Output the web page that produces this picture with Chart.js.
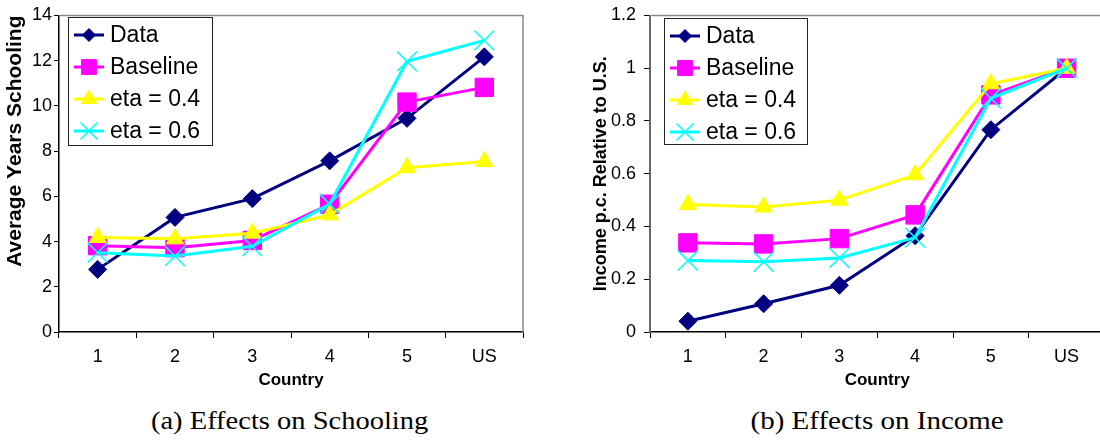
<!DOCTYPE html>
<html><head><meta charset="utf-8">
<script src="https://cdn.jsdelivr.net/npm/chart.js@4.4.0/dist/chart.umd.min.js"></script>
<style>
html,body{margin:0;padding:0;background:#fff;width:1100px;height:441px;overflow:hidden;position:relative}
#c1{position:absolute;left:0;top:0}
#c2{position:absolute;left:560px;top:0}
.cap{position:absolute;top:405px;left:0;font-family:'Liberation Serif','Times New Roman',serif;font-size:25px;line-height:1;white-space:nowrap;transform-origin:center center;color:#000}
</style></head><body>
<canvas id="c1" width="545" height="395"></canvas>
<canvas id="c2" width="560" height="395"></canvas>
<div class="cap" id="capA">(a) Effects on Schooling</div>
<div class="cap" id="capB">(b) Effects on Income</div>
<script>
// ---- data ----
const countries = ['1', '2', '3', '4', '5', 'US'];
const seriesNames = ['Data', 'Baseline', 'eta = 0.4', 'eta = 0.6'];

const schoolData     = [2.77, 5.07, 5.90, 7.57, 9.45, 12.17];
const schoolBaseline = [3.82, 3.73, 4.05, 5.65, 10.17, 10.82];
const schoolEta04    = [4.18, 4.12, 4.37, 5.18, 7.27, 7.54];
const schoolEta06    = [3.51, 3.36, 3.79, 5.66, 11.97, 12.90];

const incomeData     = [0.041, 0.107, 0.177, 0.365, 0.767, 1.0];
const incomeBaseline = [0.338, 0.334, 0.354, 0.444, 0.899, 1.0];
const incomeEta04    = [0.483, 0.474, 0.500, 0.596, 0.941, 1.0];
const incomeEta06    = [0.271, 0.266, 0.281, 0.358, 0.886, 1.0];

const schoolTicks = [0, 2, 4, 6, 8, 10, 12, 14];
const incomeTicks = [0, 0.2, 0.4, 0.6, 0.8, 1, 1.2];

// ---- styles ----
const FONT = "'Liberation Sans', Arial, Helvetica, sans-serif";
const colors = ['#000080', '#FF00FF', '#FFFF00', '#00FFFF'];
const pointStyles = ['rectRot', 'rect', 'triangle', 'crossRot'];
const pointRadii = [9, 13, 10, 14];
const legendRadii = [6.5, 10.5, 9, 12];

function makeDatasets(values) {
  return values.map((vals, i) => ({
    label: seriesNames[i],
    data: vals,
    borderColor: colors[i],
    backgroundColor: colors[i],
    borderWidth: 3,
    pointStyle: pointStyles[i],
    pointRadius: pointRadii[i],
    pointHoverRadius: pointRadii[i],
    pointBorderColor: colors[i],
    pointBackgroundColor: colors[i],
    pointBorderWidth: i === 3 ? 1.5 : 1,
    tension: 0,
    order: 4 - i,
    clip: false
  }));
}

const plotBorder = {
  id: 'plotBorder',
  beforeDatasetsDraw(chart) {
    const ctx = chart.ctx, a = chart.chartArea;
    ctx.save();
    ctx.strokeStyle = '#8a8a8a';
    ctx.lineWidth = 1.5;
    ctx.beginPath();
    ctx.moveTo(a.left, a.top);
    ctx.lineTo(a.right, a.top);
    ctx.lineTo(a.right, a.bottom);
    ctx.stroke();
    ctx.restore();
  }
};

const boxLegend = {
  id: 'boxLegend',
  afterDraw(chart, args, opts) {
    const ctx = chart.ctx, a = chart.chartArea;
    const x = Math.round(a.left + opts.dx), y = opts.y, w = opts.w, h = opts.h;
    ctx.save();
    ctx.fillStyle = '#fff';
    ctx.fillRect(x, y, w, h);
    ctx.strokeStyle = '#222';
    ctx.lineWidth = 1;
    ctx.strokeRect(x + 0.5, y + 0.5, w, h);
    chart.data.datasets.forEach((ds, i) => {
      const cy = y + 18 + i * 32;
      ctx.strokeStyle = ds.borderColor;
      ctx.lineWidth = 3;
      ctx.beginPath();
      ctx.moveTo(x + 6, cy);
      ctx.lineTo(x + 36, cy);
      ctx.stroke();
      ctx.fillStyle = ds.pointBackgroundColor;
      ctx.strokeStyle = ds.pointBorderColor;
      ctx.lineWidth = ds.pointBorderWidth;
      Chart.helpers.drawPoint(ctx, {
        pointStyle: ds.pointStyle, radius: legendRadii[i],
        borderWidth: ds.pointBorderWidth, rotation: 0
      }, x + 21, cy);
      ctx.fillStyle = '#000';
      ctx.font = '23px ' + FONT;
      ctx.textBaseline = 'middle';
      ctx.textAlign = 'left';
      ctx.fillText(ds.label, x + 42, cy + 1);
    });
    ctx.restore();
  }
};

function makeOptions(cfg) {
  return {
    responsive: false,
    animation: false,
    events: [],
    devicePixelRatio: 1,
    layout: { padding: { left: 0, right: cfg.padRight, top: cfg.top, bottom: 0 } },
    plugins: { legend: { display: false }, tooltip: { enabled: false }, boxLegend: cfg.legend },
    scales: {
      x: {
        type: 'category',
        offset: true,
        grid: { offset: true, drawOnChartArea: false, drawTicks: true, tickLength: 6, color: '#000', lineWidth: 1 },
        border: { display: true, color: '#000', width: 1.5 },
        ticks: { color: '#000', font: { family: FONT, size: 18 }, padding: 8, maxRotation: 0, autoSkip: false },
        title: { display: true, text: 'Country', color: '#000', font: { family: FONT, size: 17, weight: 'bold' }, padding: { top: 0, bottom: 4 } },
        afterFit(s) { s.height = cfg.xHeight; s.paddingLeft = 0; s.paddingRight = 0; }
      },
      y: {
        min: cfg.ticks[0],
        max: cfg.ticks[cfg.ticks.length - 1],
        afterBuildTicks(s) { s.ticks = cfg.ticks.map(v => ({ value: v })); },
        grid: { drawOnChartArea: false, drawTicks: true, tickLength: cfg.yTickLen, color: '#000', lineWidth: 1 },
        border: { display: true, color: cfg.yAxisColor, width: cfg.yAxisWidth },
        ticks: { color: '#000', font: { family: FONT, size: 18 }, padding: cfg.yTickPad,
                 callback: (v) => String(v) },
        title: { display: true, text: cfg.yTitle, align: cfg.yTitleAlign, color: '#000',
                 font: { family: FONT, size: cfg.yTitleSize, weight: 'bold' }, padding: { top: cfg.yTitlePad, bottom: 0 } },
        afterFit(s) { s.width = cfg.yWidth; s.paddingTop = 0; s.paddingBottom = 0; }
      }
    }
  };
}

new Chart(document.getElementById('c1'), {
  type: 'line',
  data: { labels: countries, datasets: makeDatasets([schoolData, schoolBaseline, schoolEta04, schoolEta06]) },
  options: makeOptions({
    padRight: 22, top: 12, xHeight: 63, yWidth: 59, yTickLen: 5, yTickPad: 2,
    yAxisColor: '#000', yAxisWidth: 1.5, ticks: schoolTicks,
    yTitle: 'Average Years Schooling', yTitleAlign: 'end', yTitleSize: 21, yTitlePad: 3,
    legend: { dx: 9, y: 17, w: 144, h: 128 }
  }),
  plugins: [plotBorder, boxLegend]
});

new Chart(document.getElementById('c2'), {
  type: 'line',
  data: { labels: countries, datasets: makeDatasets([incomeData, incomeBaseline, incomeEta04, incomeEta06]) },
  options: makeOptions({
    padRight: 6, top: 10, xHeight: 63, yWidth: 90, yTickLen: 6, yTickPad: 8,
    yAxisColor: '#666', yAxisWidth: 2, ticks: incomeTicks,
    yTitle: 'Income p.c. Relative to U.S.', yTitleAlign: 'center', yTitleSize: 18, yTitlePad: 30,
    legend: { dx: 14, y: 18, w: 143, h: 126 }
  }),
  plugins: [plotBorder, boxLegend]
});

function placeCaption(id, cx, cy, targetW) {
  const el = document.getElementById(id);
  const w = el.offsetWidth, h = el.offsetHeight;
  el.style.left = (cx - w / 2) + 'px';
  el.style.top = (cy - h / 2) + 'px';
  el.style.transform = 'scaleX(' + (targetW / w) + ')';
}
placeCaption('capA', 289, 420, 277);
placeCaption('capB', 877, 420, 253);
</script>
</body></html>
